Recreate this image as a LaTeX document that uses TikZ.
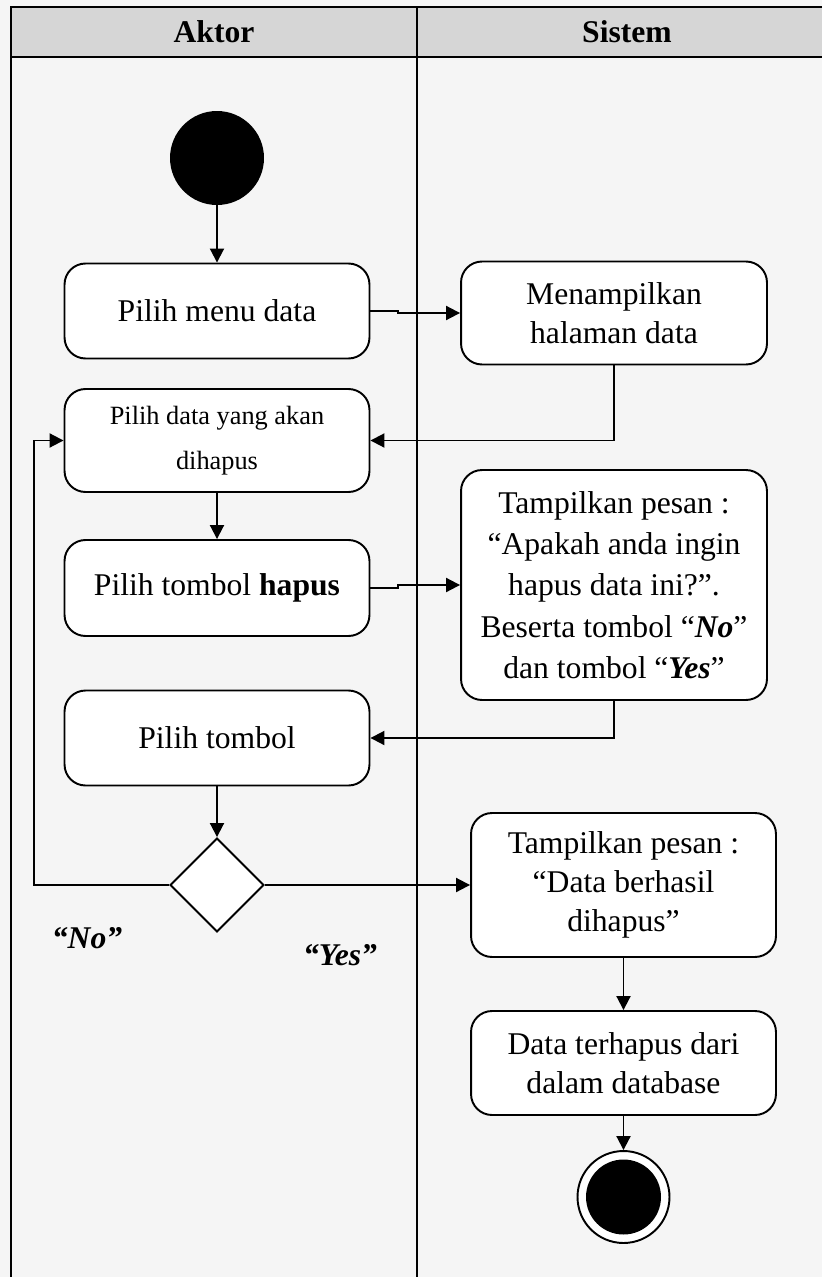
\documentclass[tikz,border=0pt]{standalone}
\usepackage{fontspec}
\setmainfont{Liberation Serif}
\usetikzlibrary{arrows.meta,shapes.geometric}
\definecolor{bgcol}{HTML}{F5F5F5}
\definecolor{headcol}{HTML}{D6D6D6}

\begin{document}
\begin{tikzpicture}[
    x=0.02cm, y=-0.02cm,
    activity/.style={draw, line width=1.1pt, fill=white, rounded corners=0.42cm, minimum width=6.1cm, minimum height=1.9cm, align=center, font=\fontsize{18}{22}\selectfont, inner sep=2pt},
    lane/.style={line width=1.4pt},
    arrow/.style={-{Triangle[length=0.28cm, width=0.28cm]}, line width=1.1pt},
    label/.style={font=\fontsize{18}{22}\selectfont\bfseries\itshape},
    header/.style={font=\fontsize{18}{22}\selectfont\bfseries}
]
\useasboundingbox (0,0) rectangle (822,1277);

% Swimlanes
\fill[bgcol] (0,0) rectangle (822,1277);
\fill[headcol] (11,7) rectangle (822,57);
\draw[lane] (822,7) -- (11,7) -- (11,1277);
\draw[lane] (11,57) -- (822,57);
\draw[lane] (417,7) -- (417,1277);
\node[header] (aktor) at (214,32) {Aktor};
\node[header] (sistem) at (627,32) {Sistem};

% Aktor lane
\node[circle, fill=black, minimum size=1.88cm, inner sep=0pt] (start) at (217,158) {};
\node[activity] (menu) at (217,311) {Pilih menu data};
\node[activity, minimum height=2.06cm, font=\fontsize{15}{25.5}\selectfont] (pilihdata) at (217,440.5) {Pilih data yang akan\\dihapus};
\node[activity, minimum height=1.92cm] (hapus) at (217,588) {Pilih tombol \textbf{hapus}};
\node[activity] (tombol) at (217,738) {Pilih tombol};
\node[diamond, draw, line width=1.1pt, fill=white, minimum width=1.88cm, minimum height=1.88cm, inner sep=0pt] (dec) at (217,885) {};
\node[label] (no) at (87,938) {“No”};
\node[label] (yes) at (340,955) {“Yes”};

% Sistem lane
\node[activity, minimum width=6.12cm, minimum height=2.06cm] (tampil) at (614,313) {Menampilkan\\halaman data};
\node[activity, minimum width=6.12cm, minimum height=4.6cm, font=\fontsize{18}{23.5}\selectfont] (pesan) at (614,585) {Tampilkan pesan :\\“Apakah anda ingin\\hapus data ini?”.\\Beserta tombol “\textbf{\textit{No}}”\\dan tombol “\textbf{\textit{Yes}}”};
\node[activity, minimum height=2.88cm] (berhasil) at (623.5,885) {Tampilkan pesan :\\“Data berhasil\\dihapus”};
\node[activity, minimum height=2.08cm] (terhapus) at (623.5,1063) {Data terhapus dari\\dalam database};
\node[circle, draw, line width=1.1pt, fill=white, minimum size=1.84cm, inner sep=0pt] (finish) at (623.5,1197) {};
\node[circle, fill=black, minimum size=1.5cm, inner sep=0pt] (finishdot) at (finish) {};

% Flow
\draw[arrow] (start) -- (menu);
\draw[arrow] (menu.east) -- ++(28,0) |- (tampil.west);
\draw[arrow] (tampil.south) |- (pilihdata.east);
\draw[arrow] (pilihdata) -- (hapus);
\draw[arrow] (hapus.east) -- ++(28,0) |- (pesan.west);
\draw[arrow] (pesan.south) |- (tombol.east);
\draw[arrow] (tombol) -- (dec);
\draw[arrow] (dec.west) -- ++(-135,0) |- (pilihdata.west);
\draw[arrow] (dec.east) -- (berhasil.west);
\draw[arrow] (berhasil) -- (terhapus);
\draw[arrow] (terhapus) -- (finish);

\end{tikzpicture}
\end{document}
